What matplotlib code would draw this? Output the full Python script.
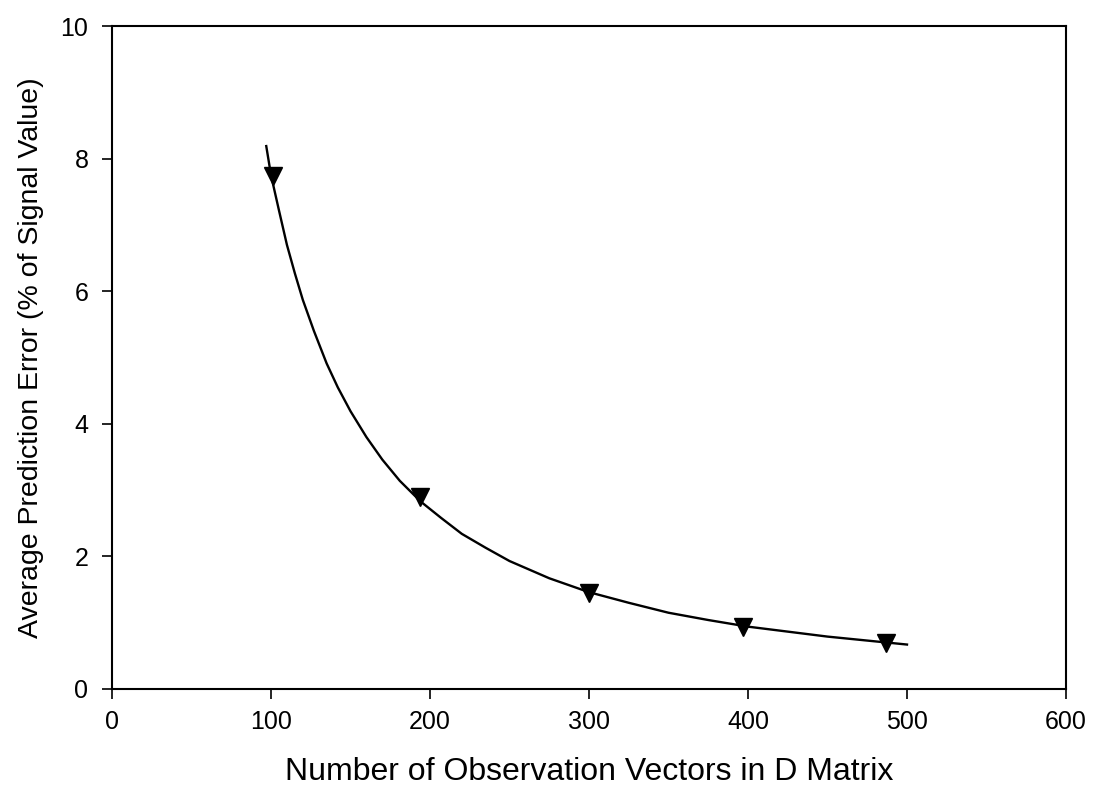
import numpy as np
import matplotlib.pyplot as plt

# measured points (triangles)
obs_vectors = [101, 194, 300, 397, 487]
pred_error = [7.74, 2.90, 1.45, 0.94, 0.69]

# fitted trend curve
curve_x = [97, 100, 105, 110, 115, 120, 127, 135, 142, 150, 160, 170, 181, 194,
           207, 220, 235, 250, 275, 300, 325, 350, 375, 400, 450, 500]
curve_y = [8.19, 7.75, 7.22, 6.70, 6.27, 5.87, 5.40, 4.91, 4.55, 4.19, 3.80, 3.46,
           3.14, 2.83, 2.58, 2.34, 2.13, 1.93, 1.67, 1.46, 1.30, 1.15, 1.04, 0.94, 0.79, 0.67]

plt.rcParams['font.family'] = ['Liberation Sans', 'DejaVu Sans']

fig = plt.figure(figsize=(10.94, 7.91), dpi=100)
ax = fig.add_axes([0.1024, 0.129, 0.872, 0.838])

ax.plot(curve_x, curve_y, color='black', linewidth=1.7)
ax.plot(obs_vectors, pred_error, linestyle='none', marker='v', markersize=13,
        color='black')

ax.set_xlim(0, 600)
ax.set_ylim(0, 10)
ax.set_xticks(np.arange(0, 601, 100))
ax.set_yticks(np.arange(0, 11, 2))
ax.tick_params(direction='out', length=7, width=1.2, labelsize=18, pad=8,
               top=False, right=False)
ax.tick_params(axis='y', pad=10)
for s in ax.spines.values():
    s.set_linewidth(1.5)

ax.set_xlabel('Number of Observation Vectors in D Matrix', fontsize=23, labelpad=17)
ax.set_ylabel('Average Prediction Error (% of Signal Value)', fontsize=20.5, labelpad=12)

fig.savefig('out.png', dpi=100)
